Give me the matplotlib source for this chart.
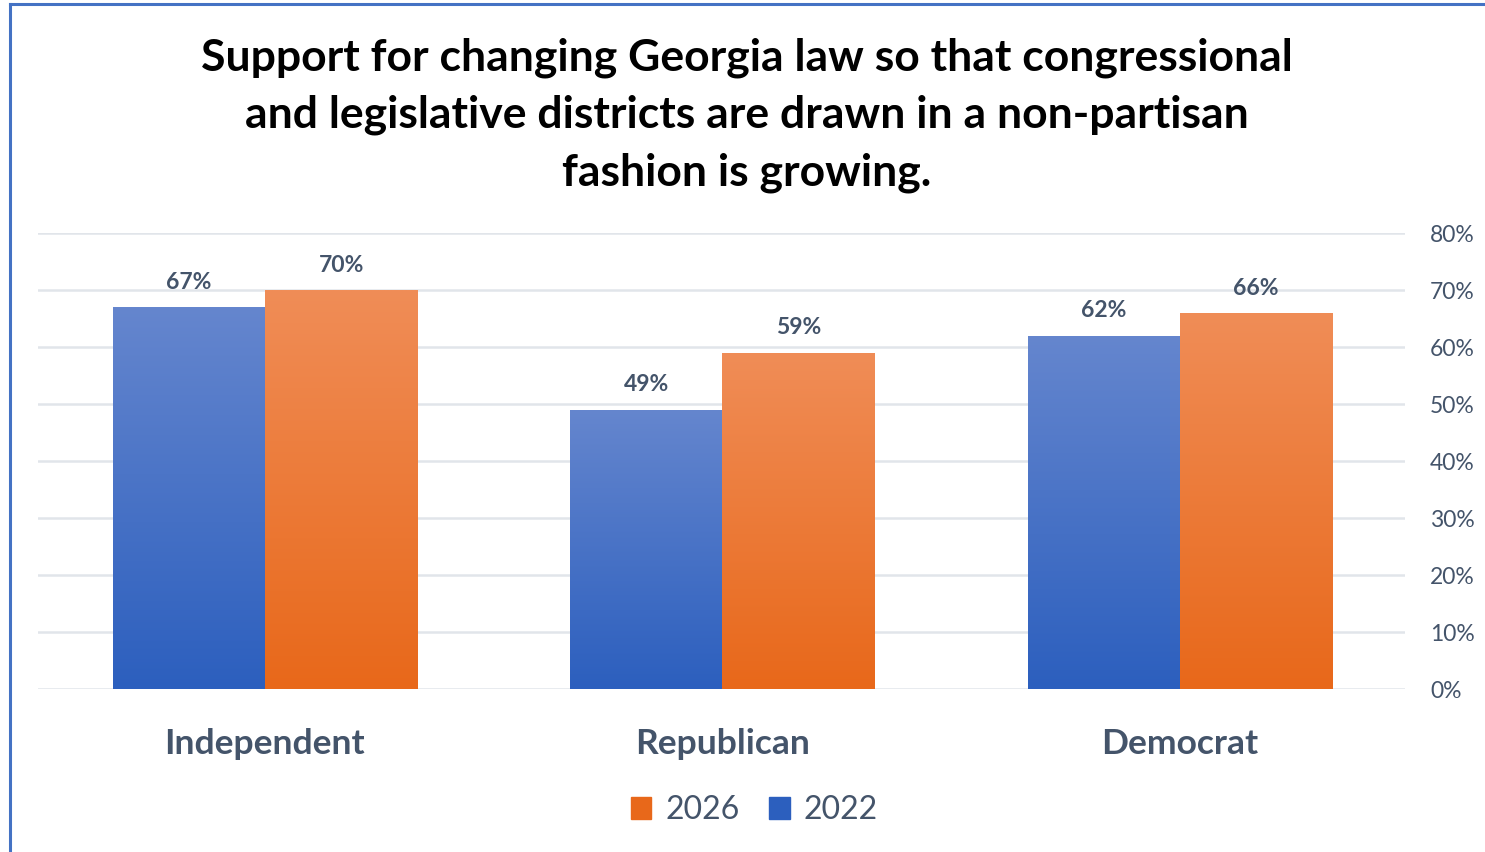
import numpy as np
import matplotlib.pyplot as plt
from matplotlib.colors import LinearSegmentedColormap
from matplotlib.patches import Rectangle
from matplotlib.lines import Line2D

categories = ["Independent", "Republican", "Democrat"]
series_names = ["2022", "2026"]
values_2022 = [67, 49, 62]
values_2026 = [70, 59, 66]
yticks = [0, 10, 20, 30, 40, 50, 60, 70, 80]

title = ("Support for changing Georgia law so that congressional\n"
         "and legislative districts are drawn in a non-partisan\n"
         "fashion is growing.")

text_col = "#44546A"
blue_top, blue_bot = "#6586CE", "#2C5FBE"
orange_top, orange_bot = "#F08D57", "#E8681A"

plt.rcParams['font.family'] = ['Lato', 'DejaVu Sans']

fig = plt.figure(figsize=(14.85, 8.52), dpi=100)
ax = fig.add_axes([0.0256, 0.1913, 0.9205, 0.5352])

x = np.arange(len(categories))
w = 0.333


def grad_bars(xs, vals, top, bot, label):
    bars = ax.bar(xs, vals, width=w, color="none", label=label, zorder=3)
    cmap = LinearSegmentedColormap.from_list("g", [bot, top])
    grad = np.linspace(0, 1, 256).reshape(-1, 1)
    for b in bars:
        x0, y0 = b.get_x(), b.get_y()
        im = ax.imshow(grad, cmap=cmap, origin="lower", aspect="auto",
                       extent=[x0, x0 + b.get_width(), y0, y0 + b.get_height()],
                       zorder=2)
        im.set_clip_path(b)
    return bars


b1 = grad_bars(x - w / 2, values_2022, blue_top, blue_bot, series_names[0])
b2 = grad_bars(x + w / 2, values_2026, orange_top, orange_bot, series_names[1])

for bars in (b1, b2):
    for b in bars:
        ax.text(b.get_x() + b.get_width() / 2, b.get_height() + 2.5,
                f"{b.get_height():.0f}%", ha="center", va="bottom",
                fontsize=16.5, fontweight="bold", color=text_col)

ax.set_xlim(-0.496, 2.492)
ax.set_ylim(0, 80)
ax.set_yticks(yticks)
ax.set_yticklabels([f"{t}%" for t in yticks])
ax.yaxis.tick_right()
ax.tick_params(axis="y", length=0, pad=18, labelsize=16.5, labelcolor=text_col)
ax.set_xticks(x)
ax.set_xticklabels(categories, fontsize=25.5, fontweight="bold", color=text_col)
ax.tick_params(axis="x", length=0, pad=28)
ax.grid(axis="y", color="#E1E5EA", linewidth=1.8, zorder=0)
ax.set_axisbelow(True)
for s in ax.spines.values():
    s.set_visible(False)

fig.text(0.503, 1 - 115 / 852, title, ha="center", va="center", fontsize=32,
         fontweight="bold", color="black", linespacing=1.52)

handles = [Rectangle((0, 0), 1, 1, color=orange_bot),
           Rectangle((0, 0), 1, 1, color=blue_bot)]
fig.legend(handles, ["2026", "2022"], loc="center", bbox_to_anchor=(0.508, 0.049),
           ncol=2, frameon=False, fontsize=23, labelcolor=text_col,
           handlelength=0.65, handleheight=0.65, handletextpad=0.45, columnspacing=0.9)

# frame lines
fig.add_artist(Line2D([0.0065, 0.0065], [0, 0.995], transform=fig.transFigure,
                      color="#4472C4", linewidth=2.2))
fig.add_artist(Line2D([0.0065, 1], [0.995, 0.995], transform=fig.transFigure,
                      color="#4472C4", linewidth=2.2))

fig.savefig("out.png", dpi=100)
